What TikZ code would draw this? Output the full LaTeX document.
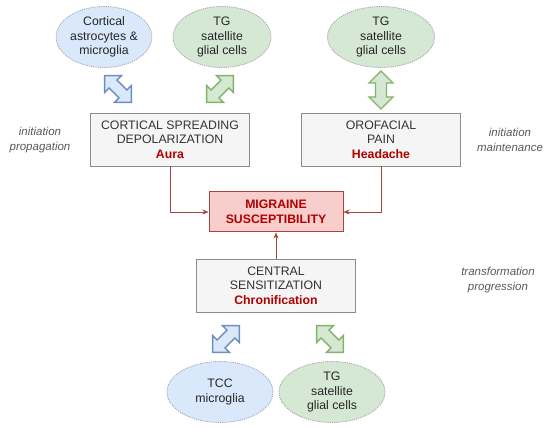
\documentclass[tikz,border=0pt]{standalone}
\usepackage{fontspec}
\setmainfont{Liberation Sans}
\usetikzlibrary{shapes.geometric,arrows.meta}
\definecolor{boxfill}{HTML}{F5F5F5}
\definecolor{boxedge}{HTML}{8C8C8C}
\definecolor{ink}{HTML}{333333}
\definecolor{alert}{HTML}{B20000}
\definecolor{alertfill}{HTML}{F8CECC}
\definecolor{alertedge}{HTML}{A8443C}
\definecolor{blueglia}{HTML}{DAE8FC}
\definecolor{blueedge}{HTML}{6C8EBF}
\definecolor{greenglia}{HTML}{D5E8D4}
\definecolor{greenedge}{HTML}{82B366}
\definecolor{dots}{HTML}{A6A6A6}

\tikzset{dblarrow/.pic={
  \path[pic actions] (-19,0) -- (-7,12) -- (-7,5.5) -- (7,5.5) -- (7,12) -- (19,0)
     -- (7,-12) -- (7,-5.5) -- (-7,-5.5) -- (-7,-12) -- cycle;}}

\begin{document}
\begin{tikzpicture}[x=1pt,y=-1pt,
   process/.style={draw=boxedge,fill=boxfill,text=ink,align=center,minimum width=159pt,
     minimum height=53pt,inner sep=0pt,font=\fontsize{12.3}{14.5}\selectfont},
   target/.style={draw=alertedge,fill=alertfill,text=alert,align=center,minimum width=134pt,
     minimum height=40pt,inner sep=0pt,line width=1pt,font=\fontsize{12.3}{14.5}\selectfont\bfseries},
   cell/.style={ellipse,align=center,inner sep=0pt,minimum height=61pt,text=black!85,draw=dots,
     line width=0.8pt,dash pattern=on 1.2pt off 1pt,font=\fontsize{12.3}{14.5}\selectfont},
   bluecell/.style={cell,fill=blueglia},
   greencell/.style={cell,fill=greenglia},
   phase/.style={align=center,text=black!65,font=\fontsize{11.5}{15}\selectfont\itshape},
   link/.style={draw=alertedge,semithick,-{Stealth[length=6pt,width=5pt]}},
   bluearrow/.style={draw=blueedge,fill=blueglia,line width=1.4pt},
   greenarrow/.style={draw=greenedge,fill=greenglia,line width=1.4pt}]

  \useasboundingbox (0,0) rectangle (550,427);

  % --- glia, arriba ---
  \node[bluecell,minimum width=89pt]  (astro) at (104,37) {Cortical\\astrocytes \&\\microglia};
  \node[greencell,minimum width=98pt] (tgleft) at (222,37) {TG\\satellite\\glial cells};
  \node[greencell,minimum width=107pt] (tgright) at (381,37) {TG\\satellite\\glial cells};

  \pic[bluearrow,rotate=-45] at (118,89) {dblarrow};
  \pic[greenarrow,rotate=45] at (220,89) {dblarrow};
  \pic[greenarrow,rotate=90] at (381,90) {dblarrow};

  % --- procesos ---
  \node[process] (csd) at (170,139.5) {CORTICAL SPREADING\\DEPOLARIZATION\\{\bfseries\color{alert}Aura}};
  \node[process] (oro) at (381,139.5) {OROFACIAL\\PAIN\\{\bfseries\color{alert}Headache}};
  \node[target]  (mig) at (276,212) {MIGRAINE\\SUSCEPTIBILITY};
  \node[process] (cen) at (276,285.5) {CENTRAL\\SENSITIZATION\\{\bfseries\color{alert}Chronification}};

  \draw[link] (csd.south) |- (mig.west);
  \draw[link] (oro.south) |- (mig.east);
  \draw[link] (cen.north) -- (mig.south);

  % --- fases ---
  \node[phase] (prop)  at (40,140)  {initiation\\propagation};
  \node[phase] (maint) at (510,140) {initiation\\maintenance};
  \node[phase] (prog)  at (498,280) {transformation\\progression};

  % --- glia, abajo ---
  \pic[bluearrow,rotate=45]   at (226,339) {dblarrow};
  \pic[greenarrow,rotate=-45] at (330,339) {dblarrow};

  \node[bluecell,minimum width=106pt]  (tcc) at (220,392) {TCC\\microglia};
  \node[greencell,minimum width=106pt] (tgbottom) at (332,392) {TG\\satellite\\glial cells};
\end{tikzpicture}
\end{document}
